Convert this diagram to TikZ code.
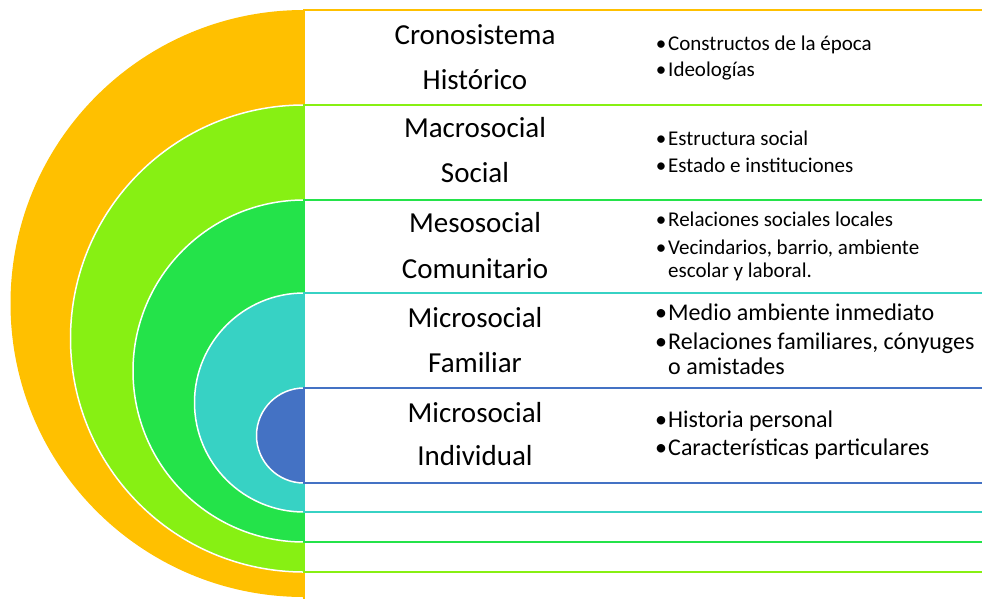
\documentclass[tikz,border=0pt]{standalone}
\usepackage{fontspec}
\setmainfont{Carlito}
\definecolor{cOrange}{HTML}{FFC000}
\definecolor{cLime}{HTML}{87F013}
\definecolor{cGreen}{HTML}{24E34A}
\definecolor{cTeal}{HTML}{37D2C4}
\definecolor{cBlue}{HTML}{4472C4}
\begin{document}
\begin{tikzpicture}[x=1pt,y=-1pt,
  disc/.style={draw=white, line width=1.5pt},
  band/.style={fill=white, line width=2.5pt},
  lab/.style={anchor=base, inner sep=0pt, font=\fontsize{29}{35}\selectfont},
  itemS/.style={anchor=base west, inner sep=0pt, font=\fontsize{21}{25}\selectfont},
  itemL/.style={anchor=base west, inner sep=0pt, font=\fontsize{24}{28}\selectfont},
  bulS/.style={anchor=base, inner sep=0pt, font=\fontsize{21}{25}\selectfont},
  bulL/.style={anchor=base, inner sep=0pt, font=\fontsize{24}{28}\selectfont}]
\useasboundingbox (0,0) rectangle (982,598);
% half discs
\begin{scope}
  \clip (0,0) rectangle (304,598);
  \fill[cOrange] (304,303.5) circle (293.5pt);
  \filldraw[disc, fill=cLime] (304,338.5) circle (233.5pt);
  \filldraw[disc, fill=cGreen] (304,371) circle (171pt);
  \filldraw[disc, fill=cTeal] (304,402.5) circle (109.5pt);
  \filldraw[disc, fill=cBlue] (304,435.5) circle (47.5pt);
\end{scope}
% bands
\filldraw[band, draw=cOrange] (304,10) rectangle (995,601);
\filldraw[band, draw=cLime] (304,105) rectangle (995,572);
\filldraw[band, draw=cGreen] (304,200) rectangle (995,542);
\filldraw[band, draw=cTeal] (304,293) rectangle (995,512);
\filldraw[band, draw=cBlue] (304,388) rectangle (995,483);
% left labels
\node[lab] (l1a) at (475,44) {Cronosistema};
\node[lab] (l1b) at (475,89) {Histórico};
\node[lab] (l2a) at (475,137) {Macrosocial};
\node[lab] (l2b) at (475,182) {Social};
\node[lab] (l3a) at (475,232) {Mesosocial};
\node[lab] (l3b) at (475,278) {Comunitario};
\node[lab] (l4a) at (475,327) {Microsocial};
\node[lab] (l4b) at (475,372) {Familiar};
\node[lab] (l5a) at (475,422) {Microsocial};
\node[lab] (l5b) at (475,465) {Individual};
% bullets band 1
\node[bulS] (b1a) at (661,50) {•};
\node[itemS] (t1a) at (668,50) {Constructos de la época};
\node[bulS] (b1b) at (661,76) {•};
\node[itemS] (t1b) at (668,76) {Ideologías};
% band 2
\node[bulS] (b2a) at (661,145) {•};
\node[itemS] (t2a) at (668,145) {Estructura social};
\node[bulS] (b2b) at (661,172) {•};
\node[itemS] (t2b) at (668,172) {Estado e instituciones};
% band 3
\node[bulS] (b3a) at (661,226) {•};
\node[itemS] (t3a) at (668,226) {Relaciones sociales locales};
\node[bulS] (b3b) at (661,254) {•};
\node[itemS] (t3b) at (668,254) {Vecindarios, barrio, ambiente};
\node[itemS] (t3c) at (668,277) {escolar y laboral.};
% band 4
\node[bulL] (b4a) at (661,320) {•};
\node[itemL] (t4a) at (668,320) {Medio ambiente inmediato};
\node[bulL] (b4b) at (661,349) {•};
\node[itemL] (t4b) at (668,349) {Relaciones familiares, cónyuges};
\node[itemL] (t4c) at (668,374) {o amistades};
% band 5
\node[bulL] (b5a) at (661,427) {•};
\node[itemL] (t5a) at (668,427) {Historia personal};
\node[bulL] (b5b) at (661,455) {•};
\node[itemL] (t5b) at (668,455) {Características particulares};
\end{tikzpicture}
\end{document}
